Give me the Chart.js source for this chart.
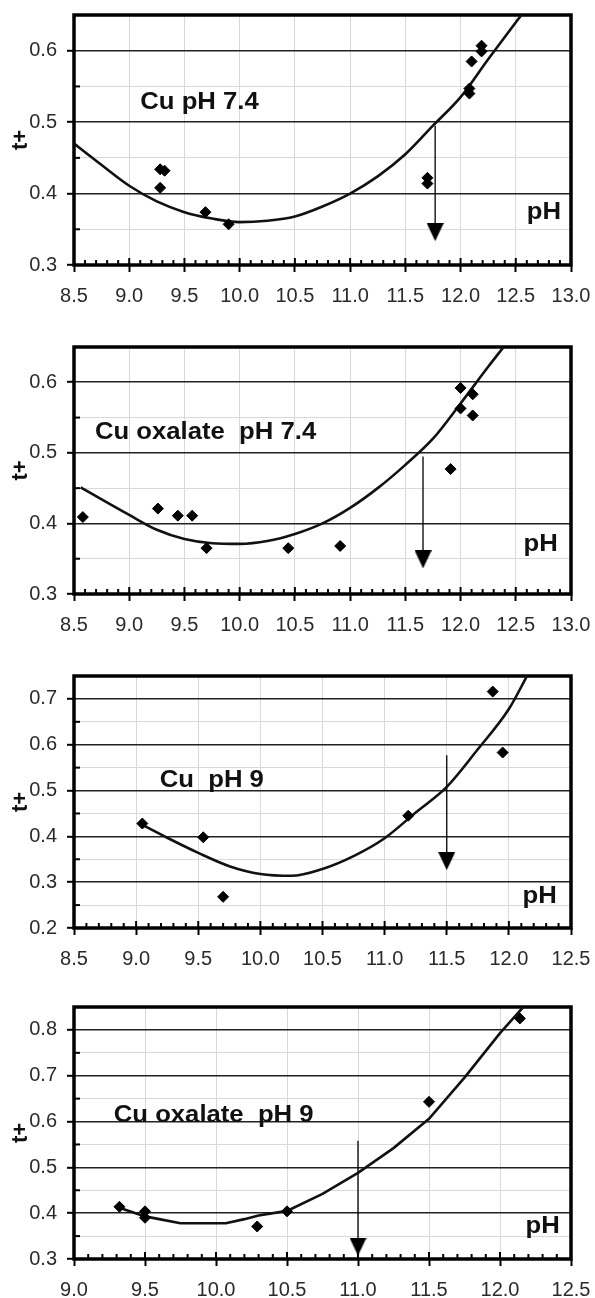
<!DOCTYPE html>
<html>
<head>
<meta charset="utf-8">
<script src="https://cdn.jsdelivr.net/npm/chart.js@4.4.1/dist/chart.umd.min.js"></script>
<style>
  body { margin: 0; background: #fff; width: 595px; height: 1298px; position: relative; overflow: hidden; }
  canvas { position: absolute; left: 0; }
</style>
</head>
<body>
<canvas id="c1" width="595" height="310" style="top:0px"></canvas>
<canvas id="c2" width="595" height="307" style="top:332px"></canvas>
<canvas id="c3" width="595" height="312" style="top:661px"></canvas>
<canvas id="c4" width="595" height="306" style="top:992px"></canvas>
<script>
// Panel 1 - Cu pH 7.4
const cu74PH = [9.28, 9.32, 9.28, 9.69, 9.90, 11.70, 11.70, 12.08, 12.08, 12.10, 12.19, 12.19];
const cu74T = [0.434, 0.432, 0.408, 0.374, 0.357, 0.422, 0.414, 0.547, 0.540, 0.585, 0.607, 0.599];
const cu74FitPH = [8.5, 8.75, 9.0, 9.25, 9.5, 9.75, 10.0, 10.25, 10.5, 10.75, 11.0, 11.25, 11.5, 11.75, 12.0, 12.25, 12.56];
const cu74FitT = [0.470, 0.440, 0.411, 0.389, 0.374, 0.365, 0.360, 0.362, 0.368, 0.382, 0.400, 0.424, 0.455, 0.495, 0.535, 0.588, 0.652];
const cu74ArrowPH = [11.77, 11.77];
const cu74ArrowT = [0.495, 0.346];
const cu74XTicks = ["8.5", "9.0", "9.5", "10.0", "10.5", "11.0", "11.5", "12.0", "12.5", "13.0"];
const cu74YTicks = ["0.3", "0.4", "0.5", "0.6"];

// Panel 2 - Cu oxalate pH 7.4
const cuOx74PH = [8.58, 9.26, 9.44, 9.57, 9.70, 10.44, 10.91, 11.91, 12.00, 12.00, 12.11, 12.11];
const cuOx74T = [0.409, 0.421, 0.411, 0.411, 0.365, 0.365, 0.368, 0.477, 0.592, 0.563, 0.583, 0.553];
const cuOx74FitPH = [8.56, 9.0, 9.25, 9.5, 9.75, 10.0, 10.25, 10.5, 10.75, 11.0, 11.25, 11.5, 11.75, 12.0, 12.25, 12.4];
const cuOx74FitT = [0.451, 0.412, 0.391, 0.378, 0.372, 0.371, 0.375, 0.385, 0.400, 0.422, 0.450, 0.483, 0.520, 0.570, 0.622, 0.652];
const cuOx74ArrowPH = [11.66, 11.66];
const cuOx74ArrowT = [0.495, 0.349];
const cuOx74XTicks = ["8.5", "9.0", "9.5", "10.0", "10.5", "11.0", "11.5", "12.0", "12.5", "13.0"];
const cuOx74YTicks = ["0.3", "0.4", "0.5", "0.6"];

// Panel 3 - Cu pH 9
const cu9PH = [9.05, 9.54, 9.70, 11.19, 11.87, 11.95];
const cu9T = [0.428, 0.398, 0.268, 0.445, 0.716, 0.583];
const cu9FitPH = [9.05, 9.25, 9.5, 9.75, 10.0, 10.25, 10.5, 10.75, 11.0, 11.25, 11.5, 11.75, 12.0, 12.15];
const cu9FitT = [0.425, 0.397, 0.364, 0.335, 0.318, 0.314, 0.329, 0.357, 0.396, 0.452, 0.508, 0.590, 0.678, 0.752];
const cu9ArrowPH = [11.5, 11.5];
const cu9ArrowT = [0.577, 0.346];
const cu9XTicks = ["8.5", "9.0", "9.5", "10.0", "10.5", "11.0", "11.5", "12.0", "12.5"];
const cu9YTicks = ["0.2", "0.3", "0.4", "0.5", "0.6", "0.7"];

// Panel 4 - Cu oxalate pH 9
const cuOx9PH = [9.32, 9.50, 9.50, 10.29, 10.50, 11.50, 12.14];
const cuOx9T = [0.414, 0.404, 0.390, 0.371, 0.404, 0.643, 0.825];
const cuOx9FitPH = [9.32, 9.5, 9.6, 9.75, 10.07, 10.2, 10.3, 10.5, 10.75, 11.0, 11.25, 11.5, 11.75, 12.0, 12.17];
const cuOx9FitT = [0.412, 0.393, 0.387, 0.378, 0.378, 0.387, 0.395, 0.405, 0.442, 0.488, 0.542, 0.606, 0.696, 0.793, 0.852];
const cuOx9ArrowPH = [11.0, 11.0];
const cuOx9ArrowT = [0.558, 0.327];
const cuOx9XTicks = ["9.0", "9.5", "10.0", "10.5", "11.0", "11.5", "12.0", "12.5"];
const cuOx9YTicks = ["0.3", "0.4", "0.5", "0.6", "0.7", "0.8"];

const TICK_FONT = { family: "'Liberation Sans', Arial, sans-serif", size: 20 };
const LABEL_FONT = "bold 24px 'Liberation Sans', Arial, sans-serif";

// Downward arrowhead used as the point style at the end of the arrow line
const arrowHead = document.createElement("canvas");
arrowHead.width = 17;
arrowHead.height = 18;
(function () {
  const c = arrowHead.getContext("2d");
  c.fillStyle = "#000";
  c.beginPath();
  c.moveTo(0, 0);
  c.lineTo(17, 0);
  c.lineTo(8.5, 18);
  c.closePath();
  c.fill();
})();

function zip(xs, ys) {
  return xs.map((x, i) => ({ x: x, y: ys[i] }));
}

const isMajor = (v, step) => Math.abs(v / step - Math.round(v / step)) < 1e-6;

// Frame, inner minor ticks and text annotations
const decoPlugin = {
  id: "deco",
  beforeDatasetsDraw(chart) {
    const { ctx, chartArea: a, scales } = chart;
    const x = scales.x, y = scales.y;
    ctx.save();
    ctx.strokeStyle = "#000";
    ctx.lineWidth = 2;
    // x minor ticks (0.1) inside, major ticks (0.5) inside a bit longer
    const n = Math.round((x.max - x.min) / 0.1);
    for (let i = 0; i <= n; i++) {
      const v = x.min + i * 0.1;
      const px = x.getPixelForValue(v);
      const len = isMajor(v, 0.5) ? 7 : 5;
      ctx.beginPath();
      ctx.moveTo(px, a.bottom);
      ctx.lineTo(px, a.bottom - len);
      ctx.stroke();
    }
    // y minor ticks (midpoints) inside
    y.ticks.forEach(t => {
      if (!isMajor(t.value, 0.1)) {
        const py = y.getPixelForValue(t.value);
        ctx.beginPath();
        ctx.moveTo(a.left, py);
        ctx.lineTo(a.left + 6, py);
        ctx.stroke();
      }
    });
    ctx.lineWidth = 3.5;
    ctx.strokeRect(a.left, a.top, a.right - a.left, a.bottom - a.top);
    ctx.restore();
  },
  afterDatasetsDraw(chart, args, opts) {
    const { ctx, scales } = chart;
    ctx.save();
    ctx.fillStyle = "#111";
    ctx.font = LABEL_FONT;
    ctx.textBaseline = "middle";
    ctx.textAlign = "left";
    (opts.labels || []).forEach(l => {
      const px = scales.x.getPixelForValue(l.x);
      const py = scales.y.getPixelForValue(l.y);
      ctx.save();
      ctx.translate(px, py);
      ctx.scale(1.07, 1);
      ctx.fillText(l.text, 0, 0);
      ctx.restore();
    });
    ctx.restore();
  }
};

function makePanel(id, p) {
  const xVals = p.xTicks.map(Number);
  const yMajor = p.yTicks.map(Number);
  const yVals = [];
  yMajor.forEach((v, i) => {
    yVals.push(v);
    const next = i + 1 < yMajor.length ? yMajor[i + 1] : v + (v - yMajor[i - 1]);
    yVals.push((v + next) / 2);
  });

  new Chart(document.getElementById(id), {
    type: "scatter",
    data: {
      datasets: [
        {
          label: "data",
          data: zip(p.ph, p.t),
          pointStyle: "rectRot",
          pointRadius: 5.5,
          pointBackgroundColor: "#000",
          pointBorderColor: "#000",
          pointBorderWidth: 1,
          showLine: false
        },
        {
          label: "fit",
          data: zip(p.fitPH, p.fitT),
          showLine: true,
          pointRadius: 0,
          borderColor: "#111",
          borderWidth: 2.6,
          cubicInterpolationMode: p.smooth ? "monotone" : "default",
          tension: 0
        },
        {
          label: "arrow",
          data: zip(p.arrowPH, p.arrowT),
          showLine: true,
          borderColor: "#000",
          borderWidth: 1.3,
          pointRadius: [0, 9],
          pointStyle: arrowHead
        }
      ]
    },
    options: {
      responsive: false,
      animation: false,
      layout: { padding: { top: 15, right: 24, left: 0, bottom: 0 } },
      plugins: {
        legend: { display: false },
        tooltip: { enabled: false },
        deco: { labels: p.labels }
      },
      scales: {
        x: {
          type: "linear",
          min: p.xMin,
          max: p.xMax,
          afterBuildTicks: s => { s.ticks = xVals.map(v => ({ value: v })); },
          afterFit: s => { s.height = p.xAxisH; s.paddingLeft = 0; s.paddingRight = 0; },
          border: { display: false },
          grid: {
            color: "#d9d9d9",
            lineWidth: 1,
            tickColor: "#000",
            tickLength: 7,
            tickWidth: 2
          },
          ticks: {
            font: TICK_FONT,
            color: "#2a2a2a",
            padding: 12,
            maxRotation: 0,
            autoSkip: false,
            callback: v => v.toFixed(1)
          }
        },
        y: {
          type: "linear",
          min: p.yMin,
          max: p.yMax,
          afterBuildTicks: s => { s.ticks = yVals.map(v => ({ value: v })); },
          afterFit: s => { s.width = 74; s.paddingTop = 0; s.paddingBottom = 0; },
          border: { display: false },
          grid: {
            color: c => isMajor(c.tick.value, 0.1) ? "#222" : "#d9d9d9",
            lineWidth: c => isMajor(c.tick.value, 0.1) ? 1.6 : 1,
            tickColor: c => isMajor(c.tick.value, 0.1) ? "#000" : "rgba(0,0,0,0)",
            tickLength: 7,
            tickWidth: 2
          },
          ticks: {
            font: TICK_FONT,
            color: "#2a2a2a",
            padding: 10,
            autoSkip: false,
            callback: v => isMajor(v, 0.1) ? v.toFixed(1) : ""
          },
          title: {
            display: true,
            text: "t+",
            color: "#111",
            font: { family: "'Liberation Sans', Arial, sans-serif", size: 22, weight: "bold" },
            padding: { top: 8, bottom: 0 }
          }
        }
      }
    },
    plugins: [decoPlugin]
  });
}

makePanel("c1", {
  ph: cu74PH, t: cu74T, fitPH: cu74FitPH, fitT: cu74FitT,
  arrowPH: cu74ArrowPH, arrowT: cu74ArrowT,
  xTicks: cu74XTicks, yTicks: cu74YTicks,
  xMin: 8.5, xMax: 13.0, yMin: 0.3, yMax: 0.65, xAxisH: 45, smooth: true,
  labels: [{ text: "Cu pH 7.4", x: 9.1, y: 0.528 }, { text: "pH", x: 12.6, y: 0.373 }]
});

makePanel("c2", {
  ph: cuOx74PH, t: cuOx74T, fitPH: cuOx74FitPH, fitT: cuOx74FitT,
  arrowPH: cuOx74ArrowPH, arrowT: cuOx74ArrowT,
  xTicks: cuOx74XTicks, yTicks: cuOx74YTicks,
  xMin: 8.5, xMax: 13.0, yMin: 0.3, yMax: 0.65, xAxisH: 45, smooth: true,
  labels: [{ text: "Cu oxalate  pH 7.4", x: 8.69, y: 0.529 }, { text: "pH", x: 12.57, y: 0.371 }]
});

makePanel("c3", {
  ph: cu9PH, t: cu9T, fitPH: cu9FitPH, fitT: cu9FitT,
  arrowPH: cu9ArrowPH, arrowT: cu9ArrowT,
  xTicks: cu9XTicks, yTicks: cu9YTicks,
  xMin: 8.5, xMax: 12.5, yMin: 0.2, yMax: 0.75, xAxisH: 45, smooth: true,
  labels: [{ text: "Cu  pH 9", x: 9.19, y: 0.522 }, { text: "pH", x: 12.11, y: 0.27 }]
});

makePanel("c4", {
  ph: cuOx9PH, t: cuOx9T, fitPH: cuOx9FitPH, fitT: cuOx9FitT,
  arrowPH: cuOx9ArrowPH, arrowT: cuOx9ArrowT,
  xTicks: cuOx9XTicks, yTicks: cuOx9YTicks,
  xMin: 9.0, xMax: 12.5, yMin: 0.3, yMax: 0.85, xAxisH: 39, smooth: false,
  labels: [{ text: "Cu oxalate  pH 9", x: 9.28, y: 0.613 }, { text: "pH", x: 12.18, y: 0.371 }]
});
</script>
</body>
</html>
